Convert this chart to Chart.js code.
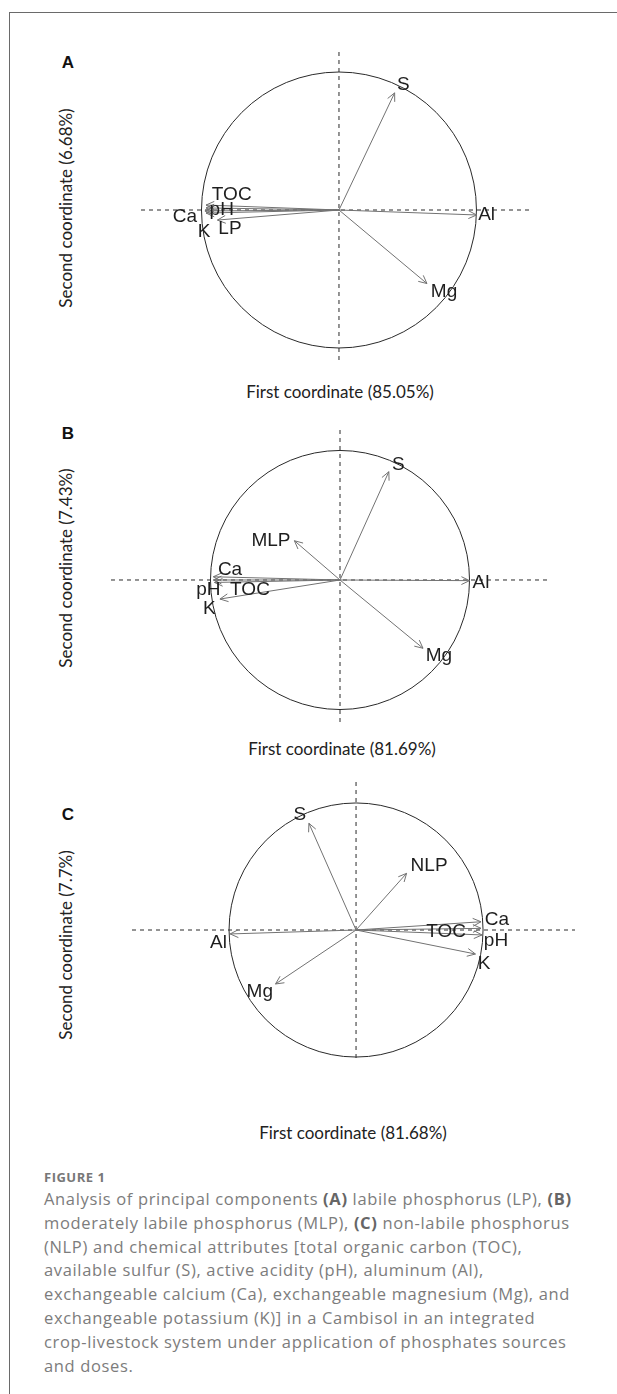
<!DOCTYPE html>
<html>
<head>
<meta charset="utf-8">
<script src="https://cdn.jsdelivr.net/npm/chart.js@4.4.0/dist/chart.umd.min.js"></script>
<style>
  body { margin: 0; background: #fff; }
  #page { position: relative; width: 617px; height: 1394px; overflow: hidden; background: #fff; }
  .frame { position: absolute; left: 9px; top: 12px; width: 620px; height: 1400px;
           border-top: 1.5px solid #6a6a6a; border-left: 1.5px solid #6a6a6a; }
  canvas { position: absolute; }
  .letter { position: absolute; font: bold 17px "Liberation Sans", Arial, sans-serif; color: #111;
            transform: translate(-50%, -50%); }
  .xt, .yt { position: absolute; font: 17px Lato, sans-serif; color: #222; white-space: nowrap; }
  .xt { transform: translate(-50%, -50%); }
  .yt { transform: translate(-50%, -50%) rotate(-90deg); }
  .fig { position: absolute; left: 44px; top: 1168px; font: bold 13px "Open Sans", sans-serif;
         color: #777; letter-spacing: 0.5px; }
  .cap { position: absolute; left: 44px; top: 1187px; font: 16.5px "Open Sans", sans-serif;
         letter-spacing: 0.65px; line-height: 23.8px; color: #7c7c7c; white-space: nowrap; }
  .cap b { color: #666; }
</style>
</head>
<body>
<div id="page">
  <div class="frame"></div>

  <div class="letter" style="left:68px; top:63px;">A</div>
  <canvas id="chartA" width="391" height="308" style="left:141px; top:52px;"></canvas>
  <div class="yt" id="ytA" style="left:65px; top:208px;"></div>
  <div class="xt" id="xtA" style="left:340px; top:391px;"></div>

  <div class="letter" style="left:68px; top:434px;">B</div>
  <canvas id="chartB" width="440" height="293" style="left:111px; top:430px;"></canvas>
  <div class="yt" id="ytB" style="left:65px; top:568px;"></div>
  <div class="xt" id="xtB" style="left:342px; top:748px;"></div>

  <div class="letter" style="left:68px; top:815px;">C</div>
  <canvas id="chartC" width="443" height="280" style="left:132px; top:782px;"></canvas>
  <div class="yt" id="ytC" style="left:65px; top:945px;"></div>
  <div class="xt" id="xtC" style="left:353px; top:1132px;"></div>

  <div class="fig">FIGURE 1</div>
  <div class="cap">
    Analysis of principal components <b>(A)</b> labile phosphorus (LP), <b>(B)</b><br>
    moderately labile phosphorus (MLP), <b>(C)</b> non-labile phosphorus<br>
    (NLP) and chemical attributes [total organic carbon (TOC),<br>
    available sulfur (S), active acidity (pH), aluminum (Al),<br>
    exchangeable calcium (Ca), exchangeable magnesium (Mg), and<br>
    exchangeable potassium (K)] in a Cambisol in an integrated<br>
    crop-livestock system under application of phosphates sources<br>
    and doses.
  </div>
</div>

<script>
// panel A - labile P
const varsA = ["S", "Al", "Mg", "TOC", "pH", "Ca", "K", "LP"];
const dim1A = [0.405, 1.001, 0.640, -0.967, -0.967, -0.975, -0.967, -0.884];
const dim2A = [0.849, -0.036, -0.533, 0.036, 0.015, -0.007, -0.022, -0.073];
const labXA = [0.468, 1.074, 0.764, -0.780, -0.853, -1.120, -0.982, -0.793];
const labYA = [0.909, -0.036, -0.594, 0.109, 0.005, -0.049, -0.158, -0.133];
const pctA = ["85.05%", "6.68%"];

// panel B - moderately labile P
const varsB = ["S", "MLP", "Al", "Mg", "Ca", "TOC", "pH", "K"];
const dim1B = [0.377, -0.352, 1.000, 0.641, -0.978, -0.978, -0.969, -0.927];
const dim2B = [0.836, 0.303, -0.005, -0.527, 0.025, 0.000, -0.019, -0.147];
const labXB = [0.450, -0.533, 1.089, 0.763, -0.849, -0.695, -1.017, -1.009];
const labYB = [0.888, 0.303, -0.021, -0.587, 0.077, -0.077, -0.077, -0.219];
const pctB = ["81.69%", "7.43%"];

// panel C - non-labile P
const varsC = ["S", "NLP", "Ca", "TOC", "pH", "K", "Al", "Mg"];
const dim1C = [-0.371, 0.398, 0.984, 0.984, 0.992, 0.940, -0.991, -0.634];
const dim2C = [0.840, 0.446, 0.065, 0.013, -0.039, -0.189, -0.031, -0.425];
const labXC = [-0.442, 0.575, 1.110, 0.709, 1.102, 1.008, -1.083, -0.758];
const labYC = [0.906, 0.504, 0.079, -0.013, -0.083, -0.262, -0.100, -0.486];
const pctC = ["81.68%", "7.7%"];

const arrowColor = "#727272";
const lineColor = "#2a2a2a";

// circle of correlations, dashed zero lines, arrow heads and names
const biplot = {
  id: "biplot",
  beforeDatasetsDraw(chart) {
    const { ctx, chartArea, scales } = chart;
    const x0 = scales.x.getPixelForValue(0);
    const y0 = scales.y.getPixelForValue(0);
    const rx = scales.x.getPixelForValue(1) - x0;
    const ry = y0 - scales.y.getPixelForValue(1);
    ctx.save();
    ctx.strokeStyle = lineColor;
    ctx.lineWidth = 1;
    ctx.setLineDash([4, 4]);
    ctx.beginPath();
    ctx.moveTo(chartArea.left, y0);
    ctx.lineTo(chartArea.right, y0);
    ctx.moveTo(x0, chartArea.top);
    ctx.lineTo(x0, chartArea.bottom);
    ctx.stroke();
    ctx.setLineDash([]);
    ctx.beginPath();
    ctx.ellipse(x0, y0, rx, ry, 0, 0, Math.PI * 2);
    ctx.stroke();
    ctx.restore();
  },
  afterDatasetsDraw(chart, args, opts) {
    const { ctx, scales } = chart;
    ctx.save();
    ctx.strokeStyle = arrowColor;
    ctx.lineWidth = 1;
    chart.data.datasets.forEach((ds, i) => {
      const pts = chart.getDatasetMeta(i).data;
      const a = Math.atan2(pts[1].y - pts[0].y, pts[1].x - pts[0].x);
      const len = 9;
      ctx.beginPath();
      ctx.moveTo(pts[1].x - len * Math.cos(a - 0.45), pts[1].y - len * Math.sin(a - 0.45));
      ctx.lineTo(pts[1].x, pts[1].y);
      ctx.lineTo(pts[1].x - len * Math.cos(a + 0.45), pts[1].y - len * Math.sin(a + 0.45));
      ctx.stroke();
    });
    ctx.fillStyle = "#1e1e1e";
    ctx.font = '19px "Liberation Sans", Arial, sans-serif';
    ctx.textAlign = "center";
    ctx.textBaseline = "middle";
    chart.data.datasets.forEach((ds, i) => {
      ctx.fillText(ds.label, scales.x.getPixelForValue(opts.labX[i]), scales.y.getPixelForValue(opts.labY[i]));
    });
    ctx.restore();
  }
};

function makePanel(id, vars, dim1, dim2, labX, labY, range) {
  const datasets = vars.map((v, i) => ({
    label: v,
    data: [{ x: 0, y: 0 }, { x: dim1[i], y: dim2[i] }],
    showLine: true,
    borderColor: arrowColor,
    borderWidth: 1,
    pointRadius: 0,
    fill: false
  }));
  return new Chart(document.getElementById(id), {
    type: "scatter",
    data: { datasets },
    options: {
      responsive: false,
      animation: false,
      devicePixelRatio: 1,
      events: [],
      layout: { padding: 0 },
      scales: {
        x: { type: "linear", min: range[0], max: range[1], display: false },
        y: { type: "linear", min: range[2], max: range[3], display: false }
      },
      plugins: {
        legend: { display: false },
        tooltip: { enabled: false },
        biplot: { labX, labY }
      }
    },
    plugins: [biplot]
  });
}

makePanel("chartA", varsA, dim1A, dim2A, labXA, labYA, [-1.44, 1.404, -1.087, 1.145]);
makePanel("chartB", varsB, dim1B, dim2B, labXB, labYB, [-1.768, 1.629, -1.104, 1.158]);
makePanel("chartC", varsC, dim1C, dim2C, labXC, labYC, [-1.764, 1.724, -1.039, 1.165]);

[["A", pctA], ["B", pctB], ["C", pctC]].forEach(([p, pct]) => {
  document.getElementById("xt" + p).textContent = "First coordinate (" + pct[0] + ")";
  document.getElementById("yt" + p).textContent = "Second coordinate (" + pct[1] + ")";
});
</script>
</body>
</html>
